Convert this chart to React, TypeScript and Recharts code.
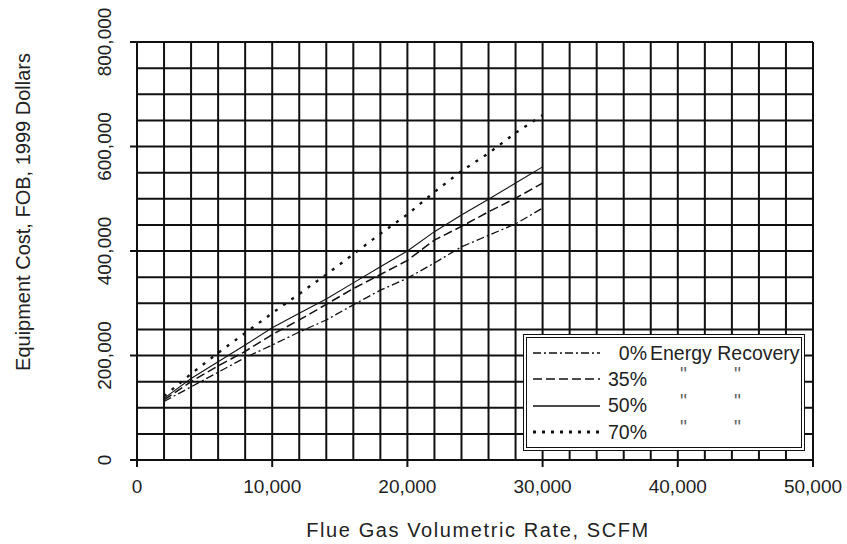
import { CartesianGrid, Line, LineChart, XAxis, YAxis } from "recharts";

// flue gas rate (SCFM) and equipment cost (1999 $)
const flowRates = [2000, 4000, 6000, 8000, 10000, 12000, 14000, 16000, 18000, 20000, 22000, 24000, 26000, 28000, 30000];
const cost0 = [112000, 140000, 168000, 196000, 220000, 245000, 268000, 297000, 325000, 348000, 377000, 408000, 430000, 452000, 482000];
const cost35 = [115000, 150000, 180000, 208000, 240000, 268000, 298000, 328000, 355000, 382000, 421000, 447000, 475000, 501000, 530000];
const cost50 = [118000, 156000, 188000, 220000, 253000, 281000, 308000, 339000, 370000, 400000, 437000, 469000, 499000, 530000, 561000];
const cost70 = [122000, 165000, 205000, 243000, 281000, 318000, 355000, 394000, 433000, 470000, 513000, 553000, 587000, 626000, 660000];

const xTicks = [0, 10000, 20000, 30000, 40000, 50000];
const yTicks = [0, 200000, 400000, 600000, 800000];
const xGrid = [0, 2000, 4000, 6000, 8000, 10000, 12000, 14000, 16000, 18000, 20000, 22000, 24000, 26000, 28000, 30000, 32000, 34000, 36000, 38000, 40000, 42000, 44000, 46000, 48000, 50000];
const yGrid = [0, 50000, 100000, 150000, 200000, 250000, 300000, 350000, 400000, 450000, 500000, 550000, 600000, 650000, 700000, 750000, 800000];

const series = [
  { key: "r0", label: "0%", dash: "8 3 2 3", width: 1.3 },
  { key: "r35", label: "35%", dash: "9 4", width: 1.5 },
  { key: "r50", label: "50%", dash: undefined, width: 1.1 },
  { key: "r70", label: "70%", dash: "3 7", width: 2.4 },
];

const data = flowRates.map((x, i) => ({
  x,
  r0: cost0[i],
  r35: cost35[i],
  r50: cost50[i],
  r70: cost70[i],
}));

const FONT = '"Liberation Sans", Arial, sans-serif';
const INK = "#222";

const fmt = (v: number) => v.toLocaleString("en-US");

function YTick(props: any) {
  const { x, y, payload } = props;
  const cx = x - 24;
  return (
    <text
      x={cx}
      y={y}
      transform={`rotate(-90 ${cx} ${y})`}
      textAnchor="middle"
      dominantBaseline="central"
      fontSize={19}
      fontFamily={FONT}
      fill={INK}
    >
      {fmt(payload.value)}
    </text>
  );
}

function XTick(props: any) {
  const { x, y, payload } = props;
  return (
    <text x={x} y={y + 17} textAnchor="middle" dominantBaseline="central" fontSize={19} fontFamily={FONT} fill={INK}>
      {fmt(payload.value)}
    </text>
  );
}

function LegendBox() {
  return (
    <div
      style={{
        position: "absolute",
        left: 523,
        top: 334,
        width: 282,
        height: 117,
        boxSizing: "border-box",
        border: "4px double #111",
        background: "#fff",
        fontFamily: FONT,
        fontSize: 19.5,
        color: INK,
      }}
    >
      {series.map((s, i) => (
        <div key={s.key} style={{ position: "absolute", left: 6, top: 3 + i * 26.4, height: 24, display: "flex", alignItems: "center" }}>
          <svg width={67} height={10}>
            <line x1={0} y1={5} x2={67} y2={5} stroke="#111" strokeWidth={s.key === "r70" ? 3 : 1.6} strokeDasharray={s.key === "r70" ? "3 6" : s.dash} />
          </svg>
          <span style={{ display: "inline-block", width: 47, textAlign: "right" }}>{s.label}</span>
          {i === 0 ? (
            <span style={{ marginLeft: 3 }}>Energy Recovery</span>
          ) : (
            <>
              <span style={{ position: "absolute", left: 147, top: -4, color: "#666" }}>"</span>
              <span style={{ position: "absolute", left: 201, top: -4, color: "#666" }}>"</span>
            </>
          )}
        </div>
      ))}
    </div>
  );
}

export default function App() {
  return (
    <div style={{ position: "absolute", left: 0, top: 0, width: 847, height: 544, background: "#fff" }}>
      <LineChart width={847} height={544} data={data} margin={{ top: 42, right: 34, bottom: 44, left: 77 }}>
        <CartesianGrid
          horizontalValues={yGrid}
          verticalValues={xGrid}
          stroke="#111"
          strokeWidth={2}
        />
        <XAxis
          type="number"
          dataKey="x"
          domain={[0, 50000]}
          ticks={xTicks}
          interval={0}
          height={40}
          tickSize={7}
          tick={<XTick />}
          axisLine={{ stroke: "#111", strokeWidth: 2 }}
          tickLine={{ stroke: "#111", strokeWidth: 2 }}
          label={{
            content: (p: any) => {
              const vb = p.viewBox;
              return (
                <text
                  x={vb.x + vb.width / 2 + 3}
                  y={vb.y + 70}
                  textAnchor="middle"
                  dominantBaseline="central"
                  fontSize={20}
                  letterSpacing={1.6}
                  fontFamily={FONT}
                  fill={INK}
                >
                  Flue Gas Volumetric Rate, SCFM
                </text>
              );
            },
          }}
        />
        <YAxis
          type="number"
          domain={[0, 800000]}
          ticks={yTicks}
          interval={0}
          width={60}
          tickSize={7}
          tick={<YTick />}
          axisLine={{ stroke: "#111", strokeWidth: 2 }}
          tickLine={{ stroke: "#111", strokeWidth: 2 }}
          label={{
            content: (p: any) => {
              const vb = p.viewBox;
              const cx = vb.x - 54;
              const cy = vb.y + 170;
              return (
                <text
                  x={cx}
                  y={cy}
                  transform={`rotate(-90 ${cx} ${cy})`}
                  textAnchor="middle"
                  dominantBaseline="central"
                  fontSize={20}
                  fontFamily={FONT}
                  fill={INK}
                >
                  Equipment Cost, FOB, 1999 Dollars
                </text>
              );
            },
          }}
        />
        {series.map((s) => (
          <Line
            key={s.key}
            type="linear"
            dataKey={s.key}
            stroke="#111"
            strokeWidth={s.width}
            strokeDasharray={s.dash}
            dot={false}
            isAnimationActive={false}
          />
        ))}
      </LineChart>
      <LegendBox />
    </div>
  );
}
